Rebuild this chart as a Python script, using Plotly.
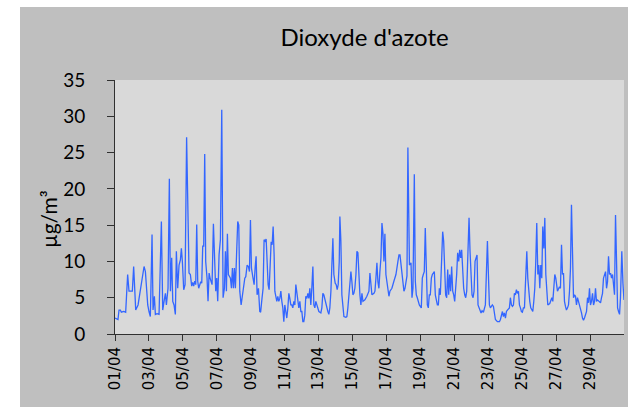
import pandas as pd
import plotly.graph_objects as go

# Hours elapsed since 01/04 00:00 (vertices)
hours = [
    0, 4.2, 5.7, 7.6, 9.0, 12.3, 15.1, 17.9, 19.8, 24.5, 26.4, 29.3, 32.6, 37.3, 41.1, 43.0, 44.4, 46.3, 48.1, 50.0,
    52.4, 53.8, 55.7, 57.1, 59.5, 62.3, 65.6, 67.5, 69.4, 71.3, 72.7, 74.1, 75.0, 76.9, 78.4, 80.2, 81.7, 83.5, 85.4,
    86.8, 88.7, 90.6, 92.5, 93.9, 95.3, 97.2, 99.1, 101.3,
    104.7, 106.6, 108.5, 109.9, 111.3, 112.8, 114.2, 115.6, 117.0, 118.4, 119.8, 121.3, 122.7, 124.1, 125.5, 126.9,
    128.3, 130.2, 131.6, 133.1, 134.5, 135.9, 137.3, 139.2, 141.1, 142.5, 143.9, 145.3, 147.2, 149.1, 151.0, 152.9,
    154.8, 156.2, 157.6, 159.0, 160.4, 161.8, 163.3, 164.7, 166.1, 167.5, 168.9, 170.3, 171.8, 173.6, 175.1, 176.5,
    178.4, 180.3, 182.1, 183.6, 185.0, 186.9, 188.7, 190.2, 191.6, 193.0, 194.9, 196.8, 198.2, 199.6, 201.0, 202.9,
    204.8, 206.0, 207.5,
    209.5, 210.9, 212.4, 213.8, 215.2, 216.6, 218.0, 219.4, 220.9, 222.3, 223.7, 225.1, 226.1, 227.5, 228.9, 230.3,
    231.7, 233.1, 234.6, 236.0, 237.4, 238.8, 240.2, 241.6, 243.0, 244.5, 245.9, 247.3, 248.7, 250.1, 251.5, 253.0,
    254.4, 255.8, 257.2, 258.6, 260.0, 261.5, 262.9, 264.3, 265.7, 267.1, 268.5, 269.9, 271.4, 272.8, 274.2, 275.6,
    277.0, 278.4, 279.9, 281.3, 282.7, 284.1, 285.5, 286.9, 288.4, 289.8, 291.2, 292.6, 294.0, 295.4, 296.9, 298.3,
    299.7, 301.1, 302.5, 303.9, 305.4, 306.8, 308.2, 309.6,
    311.5, 312.9, 314.3, 315.7, 317.2, 318.1, 319.5, 320.9, 322.4, 323.8, 326.6, 328.0, 329.4, 330.9, 332.3, 333.7,
    335.1, 336.5, 337.9, 339.3, 340.8, 342.2, 343.6, 345.0, 346.4, 347.8, 349.3, 350.7, 353.5, 356.3, 359.2, 360.6,
    362.0, 363.4, 366.3, 367.7, 369.1, 370.5, 371.9, 373.3, 374.7, 376.2, 377.6, 379.0, 380.4, 381.8, 383.2, 384.7,
    386.1, 387.5, 388.9, 391.7, 394.6, 397.4, 400.2, 401.7, 403.1, 404.5, 405.9, 407.3, 408.7, 410.2, 411.6, 413.0,
    414.3,
    416.5, 418.7, 420.1, 421.5, 423.4, 424.8, 426.2, 427.6, 430.5, 433.3, 434.7, 436.1, 437.5, 438.9, 440.4, 441.8,
    443.2, 444.6, 446.0, 447.5, 448.9, 450.3, 451.7, 453.1, 454.5, 456.0, 457.4, 458.8, 460.2, 461.6, 463.5, 464.9,
    466.3, 467.7, 469.2, 470.6, 472.0, 473.4, 474.8, 476.2, 477.7, 479.1, 480.5, 481.9, 483.3, 484.7, 486.2, 487.6,
    489.0, 490.4, 491.8, 493.2, 494.7, 496.1, 497.5, 498.9, 500.8, 502.2, 503.6, 505.0, 506.5, 507.9, 509.3, 510.7,
    512.1, 513.5, 515.0, 516.4, 517.8, 519.2, 521.1,
    523.9, 525.3, 526.8, 528.2, 529.6, 531.0, 533.8, 535.3, 536.7, 538.1, 540.9, 543.8, 545.2, 546.6, 548.0, 549.4,
    550.8, 552.3, 553.7, 555.1, 557.9, 559.3, 560.8, 562.2, 563.6, 565.0, 566.4, 567.8, 569.2, 570.7, 572.1, 573.5,
    574.9, 576.3, 577.7, 579.2, 580.6, 582.5, 583.9, 585.3, 586.7, 588.1, 589.6, 591.0, 592.4, 593.8, 595.2, 596.6,
    598.1, 599.5, 600.9, 602.3, 603.7, 605.1, 606.6, 608.0, 609.4, 610.8, 612.2, 615.0, 617.9, 619.3, 620.7, 622.1,
    623.5,
    625.9, 628.7, 630.1, 631.6, 633.0, 634.4, 635.8, 637.2, 638.6, 640.1, 641.5, 642.9, 644.3, 645.7, 647.1, 648.6,
    650.0, 651.4, 652.8, 654.2, 655.6, 657.1, 658.5, 659.9, 661.3, 662.7, 664.1, 665.5, 667.0, 668.4, 669.8, 671.2,
    672.6, 674.0, 675.5, 676.9, 678.3, 679.7, 681.1, 682.5, 685.4, 686.8, 688.2, 689.6, 691.0, 692.5, 693.9, 695.3,
    696.7, 698.1, 699.5, 701.0, 702.4, 703.8, 705.2, 706.6, 708.0, 709.4, 710.9, 712.3, 713.7, 715.0, 716.9, 718.5,
    720.0,
]

# NO2 concentration (µg/m3)
no2 = [
    2.2, 2.0, 3.3, 3.3, 3.0, 3.1, 3.0, 8.2, 5.9, 5.9, 9.3, 3.3, 4.0, 7.2, 9.3, 8.6, 5.9, 4.0, 3.1, 2.4,
    13.7, 3.3, 5.2, 2.7, 2.8, 2.7, 15.5, 3.3, 4.5, 5.6, 4.0, 5.4, 6.3, 21.4, 5.9, 10.5, 4.5, 4.0, 2.7,
    11.4, 6.3, 9.5, 10.2, 11.8, 10.0, 6.1, 6.8, 27.1,
    8.4, 8.2, 6.6, 7.1, 6.6, 7.3, 6.8, 15.1, 7.3, 6.3, 6.8, 7.2, 7.0, 12.1, 12.1, 24.8,
    10.0, 7.7, 4.5, 8.4, 7.7, 7.0, 6.8, 15.2, 8.2, 5.9, 7.7, 4.5, 10.9, 13.0, 30.9, 5.0,
    6.3, 11.4, 5.9, 13.8, 8.2, 7.9, 7.7, 6.3, 9.1, 6.3, 9.1, 6.3, 10.0, 15.5, 15.0, 5.9,
    4.0, 5.6, 6.3, 7.7, 7.9, 9.5, 9.3, 8.6, 15.7, 9.1, 7.9, 6.8, 9.1, 10.7, 5.4, 6.3,
    3.1, 3.0, 4.5,
    6.3, 13.0, 12.8, 13.1, 8.2, 6.8, 6.1, 10.0, 12.7, 12.3, 14.8, 10.9, 5.9, 5.2, 4.5, 5.2,
    4.5, 4.9, 5.9, 4.5, 3.6, 1.7, 4.0, 3.1, 2.2, 3.6, 5.6, 4.9, 4.0, 4.0, 3.6, 4.5,
    4.0, 6.8, 5.4, 4.0, 3.6, 4.5, 3.1, 3.1, 1.7, 1.7, 2.6, 5.2, 4.9, 5.6, 4.9, 6.3,
    4.0, 6.3, 9.3, 4.0, 3.6, 4.5, 4.0, 3.4, 3.1, 3.0, 2.9, 3.6, 5.6, 5.4, 4.7, 4.5,
    3.6, 3.1, 2.7, 3.6, 5.9, 10.0, 13.2, 8.2,
    7.0, 6.8, 6.1, 6.8, 10.0, 16.2, 12.8, 5.4, 3.6, 2.4, 2.3, 2.4, 3.6, 5.4, 6.3, 8.6,
    7.2, 5.4, 5.6, 6.3, 8.2, 11.4, 11.2, 6.8, 5.4, 4.0, 5.6, 4.5, 4.7, 5.2, 5.9, 8.4,
    7.2, 5.4, 5.6, 5.9, 7.7, 9.8, 7.2, 6.3, 8.6, 10.5, 15.3, 13.9, 10.0, 13.8, 8.2, 7.2,
    5.9, 5.2, 5.9, 6.3, 7.3, 8.2, 10.0, 10.9, 10.9, 9.5, 7.7, 6.3, 5.9, 6.3, 7.2, 8.0,
    25.7,
    9.5, 9.8, 5.0, 6.3, 22.0, 7.3, 5.4, 5.0, 4.0, 3.6, 7.7, 8.2, 8.6, 14.6, 6.3, 4.0,
    3.6, 5.4, 5.4, 7.7, 8.2, 8.4, 8.6, 5.4, 4.5, 4.0, 4.0, 6.3, 5.4, 8.2, 14.1, 12.8,
    7.2, 5.4, 5.0, 8.9, 5.4, 8.2, 5.9, 9.3, 5.9, 5.4, 4.5, 5.9, 8.2, 11.2, 10.0, 11.6,
    10.5, 11.6, 8.2, 6.3, 5.4, 5.0, 5.9, 10.0, 16.0, 11.4, 7.3, 5.4, 5.0, 5.9, 10.0, 10.7,
    10.9, 4.0, 3.6, 3.1, 2.9, 3.2, 3.0,
    4.0, 10.0, 12.8, 8.2, 4.0, 3.6, 4.0, 3.8, 2.7, 2.0, 1.7, 1.7, 2.0, 2.7, 3.1, 2.4,
    2.9, 2.2, 3.1, 3.3, 3.6, 5.0, 4.0, 3.8, 4.0, 5.6, 5.4, 6.1, 5.6, 5.9, 4.0, 3.6,
    3.1, 3.0, 3.6, 3.6, 6.3, 11.4, 7.7, 5.4, 4.5, 3.6, 3.4, 3.1, 4.5, 6.3, 10.0, 15.3,
    8.2, 9.5, 6.3, 9.5, 7.7, 14.8, 11.8, 16.0, 8.2, 5.0, 4.0, 4.2, 5.0, 4.5, 6.3, 8.2,
    7.7,
    5.9, 6.5, 6.3, 12.3, 8.2, 8.4, 4.5, 3.8, 3.3, 3.6, 4.0, 5.9, 9.1, 17.8, 8.6, 5.0,
    5.4, 5.2, 4.0, 5.0, 4.5, 4.0, 3.6, 2.9, 2.2, 1.9, 2.2, 2.7, 3.1, 5.0, 4.3, 6.3,
    4.0, 4.5, 5.6, 4.0, 4.5, 6.3, 4.5, 4.7, 4.5, 4.3, 5.0, 5.6, 7.7, 8.2, 8.6, 6.3,
    7.2, 10.7, 8.2, 8.4, 7.7, 8.2, 6.3, 5.4, 16.4, 8.2, 3.6, 3.1, 2.7, 5.0, 11.4, 7.0,
    4.7,
]

x_tick_labels = ["01/04", "03/04", "05/04", "07/04", "09/04", "11/04", "13/04", "15/04",
                 "17/04", "19/04", "21/04", "23/04", "25/04", "27/04", "29/04"]
y_ticks = [0, 5, 10, 15, 20, 25, 30, 35]
title_text = "Dioxyde d'azote"
y_label = "µg/m³"

start = pd.Timestamp("2019-04-01")
times = start + pd.to_timedelta(hours, unit="h")
x_tick_vals = [pd.Timestamp(f"2019-{lbl[3:]}-{lbl[:2]}") for lbl in x_tick_labels]

fig = go.Figure()
fig.add_trace(go.Scatter(
    x=times, y=no2, mode="lines",
    line=dict(color="#3366ff", width=1.3),
    hoverinfo="skip", showlegend=False,
))

W, H = 628, 407
ml, mr, mt, mb = 115, 4, 80, 73
pw, ph = W - ml - mr, H - mt - mb

def px(x):
    return (x - ml) / pw

def py(y):
    return (H - mb - y) / ph

axis_col = "#303030"
fig.update_layout(
    width=W, height=H,
    margin=dict(l=ml, r=mr, t=mt, b=mb, pad=0),
    paper_bgcolor="#bfbfbf",
    plot_bgcolor="#d9d9d9",
    title=dict(text=title_text, x=364.5 / W, xref="container", xanchor="center",
               y=1 - 38 / H, yref="container", yanchor="middle",
               font=dict(family="Lato", size=24, color="#000000")),
    xaxis=dict(
        type="date",
        range=[start, start + pd.Timedelta(days=30)],
        tickvals=x_tick_vals, ticktext=x_tick_labels,
        tickangle=-90, ticks="outside", ticklen=6, tickwidth=1, tickcolor=axis_col,
        showline=True, linecolor=axis_col, linewidth=1,
        showgrid=False, zeroline=False,
        tickfont=dict(family="DejaVu Sans", size=15, color="#000000"),
    ),
    yaxis=dict(
        range=[0, 35], tickvals=y_ticks, ticks="outside", ticklen=7, tickwidth=1,
        tickcolor=axis_col, showline=True, linecolor=axis_col, linewidth=1,
        showgrid=False, zeroline=False, ticklabelstandoff=18,
        tickfont=dict(family="Lato", size=19, color="#000000"),
    ),
    shapes=[
        dict(type="rect", xref="paper", yref="paper", layer="above",
             x0=px(-5), x1=px(20), y0=py(H + 5), y1=py(-5),
             fillcolor="#ffffff", line=dict(width=0)),
        dict(type="rect", xref="paper", yref="paper", layer="above",
             x0=px(-5), x1=px(W + 5), y0=py(7), y1=py(-5),
             fillcolor="#ffffff", line=dict(width=0)),
    ],
    annotations=[
        dict(text=y_label, xref="paper", yref="paper", x=px(48), y=py(219),
             xanchor="center", yanchor="middle", textangle=-90, showarrow=False,
             font=dict(family="Lato", size=21, color="#000000")),
    ],
)

fig.write_html(
    "out.html",
    config={"displayModeBar": False},
    post_script="document.body.style.margin='0';document.body.style.overflow='hidden';",
)
